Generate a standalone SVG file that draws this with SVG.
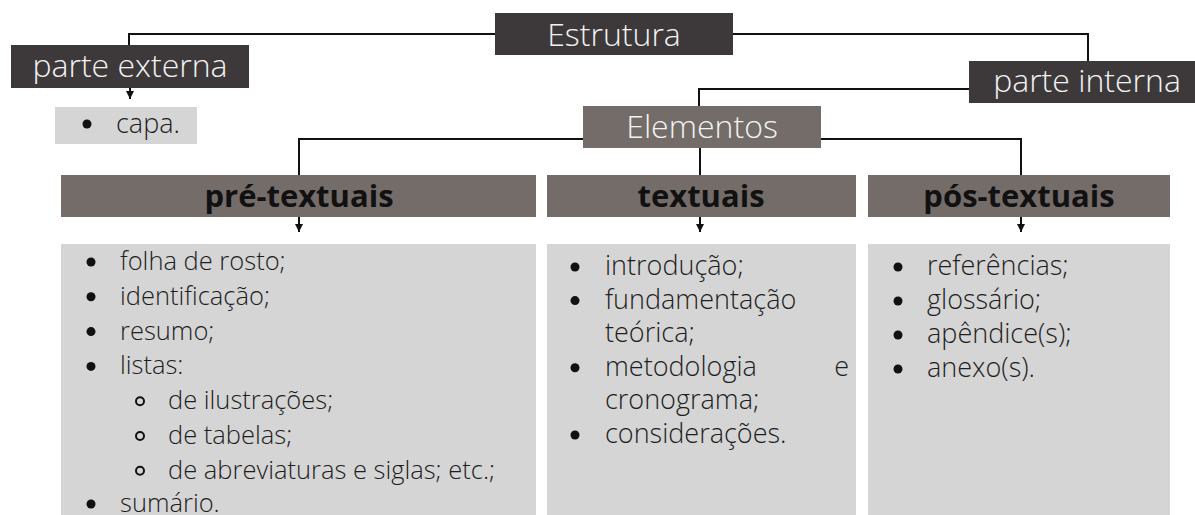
<svg xmlns="http://www.w3.org/2000/svg" width="1195" height="515" viewBox="0 0 1195 515">
<defs>
<style>
.dark{fill:#3d393a}
.mid{fill:#736c69}
.light{fill:#d5d5d5}
.ht{font-family:"Open Sans","Liberation Sans",sans-serif;font-weight:300;font-size:32px;fill:#f2f2f2;text-anchor:middle}
.bt{font-family:"Open Sans","Liberation Sans",sans-serif;font-weight:700;font-size:31px;fill:#111;text-anchor:middle}
.li{font-family:"Open Sans","Liberation Sans",sans-serif;font-weight:300;font-size:27px;fill:#1e1e1e}
.lp{font-size:25.5px}
.dot{fill:#111}
.ring{fill:none;stroke:#111;stroke-width:2}
.con{fill:none;stroke:#111;stroke-width:2}
</style>
<marker id="arr" viewBox="0 0 10 10" refX="10" refY="5" markerWidth="4" markerHeight="4" orient="auto" markerUnits="strokeWidth">
<path d="M0,0 L10,5 L0,10 z" fill="#111"/>
</marker>
</defs>
<rect width="1195" height="515" fill="#ffffff"/>

<g id="connectors">
<path class="con" d="M495,34 H129 V45"/>
<path class="con" d="M130,88 V99" marker-end="url(#arr)"/>
<path class="con" d="M733,34 H1088 V61"/>
<path class="con" d="M969,89 H699 V106"/>
<path class="con" d="M700,148 V175"/>
<path class="con" d="M583,139 H299 V175"/>
<path class="con" d="M821,139 H1021 V175"/>
<path class="con" d="M299,217 V232" marker-end="url(#arr)"/>
<path class="con" d="M700,217 V232" marker-end="url(#arr)"/>
<path class="con" d="M1021,217 V232" marker-end="url(#arr)"/>
</g>

<g id="estrutura">
<rect class="dark" x="495" y="13" width="238" height="42"/>
<text class="ht" x="614" y="45.5">Estrutura</text>
</g>

<g id="parte-externa">
<rect class="dark" x="11" y="45" width="238" height="43"/>
<text class="ht" x="130" y="77">parte externa</text>
</g>

<g id="capa">
<rect class="light" x="55" y="107" width="142" height="37"/>
<circle class="dot" cx="87" cy="124" r="4.5"/>
<text class="li" x="116" y="133">capa.</text>
</g>

<g id="parte-interna">
<rect class="dark" x="969" y="61" width="226" height="42"/>
<text class="ht" x="1087" y="92">parte interna</text>
</g>

<g id="elementos">
<rect class="mid" x="583" y="106" width="238" height="42"/>
<text class="ht" x="702" y="137.5">Elementos</text>
</g>

<g id="pre-textuais">
<rect class="mid" x="61" y="175" width="475" height="42"/>
<text class="bt" x="299" y="207">pré-textuais</text>
</g>

<g id="textuais">
<rect class="mid" x="547" y="175" width="309" height="42"/>
<text class="bt" x="701" y="207">textuais</text>
</g>

<g id="pos-textuais">
<rect class="mid" x="868" y="175" width="302" height="42"/>
<text class="bt" x="1019" y="207">pós-textuais</text>
</g>

<g id="pre-lista">
<rect class="light" x="61" y="244" width="475" height="271"/>
<circle class="dot" cx="91" cy="262" r="4.5"/>
<text class="li lp" x="120" y="270">folha de rosto;</text>
<circle class="dot" cx="91" cy="296.8" r="4.5"/>
<text class="li lp" x="120" y="304.8">identificação;</text>
<circle class="dot" cx="91" cy="331.6" r="4.5"/>
<text class="li lp" x="120" y="339.6">resumo;</text>
<circle class="dot" cx="91" cy="366.4" r="4.5"/>
<text class="li lp" x="120" y="374.4">listas:</text>
<circle class="ring" cx="140" cy="401.2" r="4"/>
<text class="li lp" x="168" y="409.2">de ilustrações;</text>
<circle class="ring" cx="140" cy="436" r="4"/>
<text class="li lp" x="168" y="444">de tabelas;</text>
<circle class="ring" cx="140" cy="470.8" r="4"/>
<text class="li lp" x="168" y="478.8">de abreviaturas e siglas; etc.;</text>
<circle class="dot" cx="91" cy="504" r="4.5"/>
<text class="li lp" x="120" y="512">sumário.</text>
</g>

<g id="textuais-lista">
<rect class="light" x="547" y="244" width="309" height="271"/>
<circle class="dot" cx="575" cy="267" r="4.5"/>
<text class="li" x="605" y="275">introdução;</text>
<circle class="dot" cx="575" cy="300.6" r="4.5"/>
<text class="li" x="605" y="308.6">fundamentação</text>
<text class="li" x="605" y="342.2">teórica;</text>
<circle class="dot" cx="575" cy="367.8" r="4.5"/>
<text class="li" x="605" y="375.8">metodologia</text>
<text class="li" x="849" y="375.8" text-anchor="end">e</text>
<text class="li" x="605" y="409.4">cronograma;</text>
<circle class="dot" cx="575" cy="435" r="4.5"/>
<text class="li" x="605" y="443">considerações.</text>
</g>

<g id="pos-lista">
<rect class="light" x="868" y="244" width="302" height="271"/>
<circle class="dot" cx="898" cy="267" r="4.5"/>
<text class="li" x="927" y="275">referências;</text>
<circle class="dot" cx="898" cy="301" r="4.5"/>
<text class="li" x="927" y="309">glossário;</text>
<circle class="dot" cx="898" cy="335" r="4.5"/>
<text class="li" x="927" y="343">apêndice(s);</text>
<circle class="dot" cx="898" cy="369" r="4.5"/>
<text class="li" x="927" y="377">anexo(s).</text>
</g>
</svg>
